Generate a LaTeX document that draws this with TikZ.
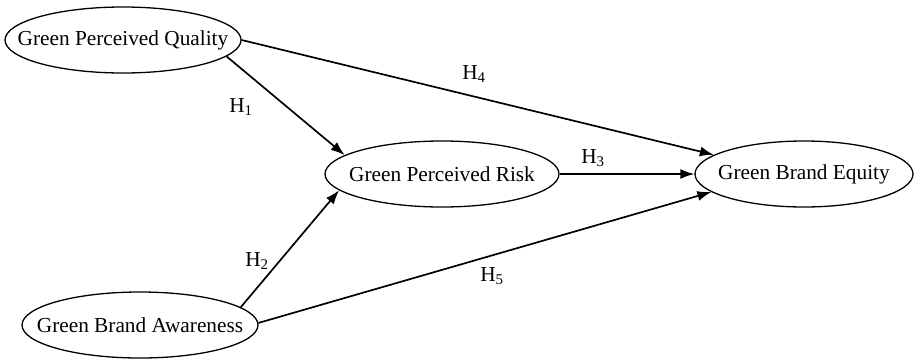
\documentclass[tikz,border=0pt]{standalone}
\usepackage{fontspec}
\setmainfont{Liberation Serif}
\usetikzlibrary{shapes.geometric,arrows.meta}
\newcommand{\zerowide}[1]{\makebox[0pt][c]{#1}}
\begin{document}
\begin{tikzpicture}[x=1pt,y=1pt,
  construct/.style={ellipse,draw,line width=1.3pt,inner sep=0pt,minimum height=66pt,
    font=\fontsize{21.3}{24}\selectfont},
  hyp/.style={inner sep=0pt,font=\fontsize{21.3}{24}\selectfont},
  link/.style={line width=1.7pt,-{Latex[length=14pt,width=10pt]}}]
\useasboundingbox (0,0) rectangle (915,360);
\node[construct,minimum width=236pt] (gpq) at (123,320) {\zerowide{Green Perceived Quality}};
\node[construct,minimum width=234pt] (gpr) at (442,186) {\zerowide{Green Perceived Risk}};
\node[construct,minimum width=218pt] (gbe) at (804,186) {\zerowide{Green Brand Equity}};
\node[construct,minimum width=236pt] (gba) at (140,35) {\zerowide{Green Brand Awareness}};
\draw[link] (gpq.-9.5) -- (gpr.169.5);
\draw[link] (gba.10) -- (gpr.-171);
\draw[link] (gpq.east) -- (gbe.168.6);
\draw[link] (gpr.east) -- (gbe.west);
\draw[link] (gba.1) -- (gbe.-169.7);
\node[hyp] (h1) at (241,253) {H\textsubscript{1}};
\node[hyp] (h4) at (474,286) {H\textsubscript{4}};
\node[hyp] (h3) at (593,202) {H\textsubscript{3}};
\node[hyp] (h2) at (257,99) {H\textsubscript{2}};
\node[hyp] (h5) at (492,84) {H\textsubscript{5}};
\end{tikzpicture}
\end{document}
